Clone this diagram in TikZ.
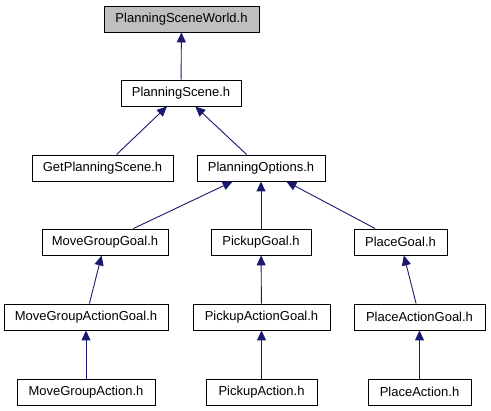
\documentclass[tikz,border=0pt]{standalone}
\usepackage{fontspec}
\setmainfont{Liberation Sans}
\usetikzlibrary{arrows.meta, positioning}
\definecolor{edgeblue}{RGB}{25,25,112}
\definecolor{rootgray}{RGB}{191,191,191}

\begin{document}
\begin{tikzpicture}[
        x=1pt, y=-1pt,
        header/.style={rectangle, draw=black, line width=0.9pt, fill=white,
            minimum height=26pt, inner sep=0pt,
            font=\fontsize{13}{15}\selectfont},
        dep/.style={draw=edgeblue, line width=0.9pt,
            -{Triangle[length=10pt, width=9pt]}},
        >=Stealth]
    \useasboundingbox (0,0) rectangle (491,411);

    \node[header, fill=rootgray, minimum width=155pt] (psw) at (181.5,19) {PlanningSceneWorld.h};
    \node[header, minimum width=120pt] (psc) at (181,93) {PlanningScene.h};
    \node[header, minimum width=141pt] (gps) at (102.5,168) {GetPlanningScene.h};
    \node[header, minimum width=128pt] (po) at (261,168) {PlanningOptions.h};
    \node[header, minimum width=126pt] (mgg) at (105,242) {MoveGroupGoal.h};
    \node[header, minimum width=100pt] (pkg) at (261,242) {PickupGoal.h};
    \node[header, minimum width=93pt] (plg) at (400.5,242) {PlaceGoal.h};
    \node[header, minimum width=164pt] (mgag) at (86,317) {MoveGroupActionGoal.h};
    \node[header, minimum width=137pt] (pkag) at (261.5,317) {PickupActionGoal.h};
    \node[header, minimum width=131pt] (plag) at (419.5,317) {PlaceActionGoal.h};
    \node[header, minimum width=138pt] (mga) at (86,392) {MoveGroupAction.h};
    \node[header, minimum width=111pt] (pka) at (261.5,392) {PickupAction.h};
    \node[header, minimum width=103pt] (pla) at (419.5,392) {PlaceAction.h};

    \draw[dep] (psc) -- (psw);
    \draw[dep] (gps) -- (psc);
    \draw[dep] (po) -- (psc);
    \draw[dep] (mgg) -- (po);
    \draw[dep] (pkg) -- (po);
    \draw[dep] (plg) -- (po);
    \draw[dep] (mgag) -- (mgg);
    \draw[dep] (pkag) -- (pkg);
    \draw[dep] (plag) -- (plg);
    \draw[dep] (mga) -- (mgag);
    \draw[dep] (pka) -- (pkag);
    \draw[dep] (pla) -- (plag);

\end{tikzpicture}
\end{document}
